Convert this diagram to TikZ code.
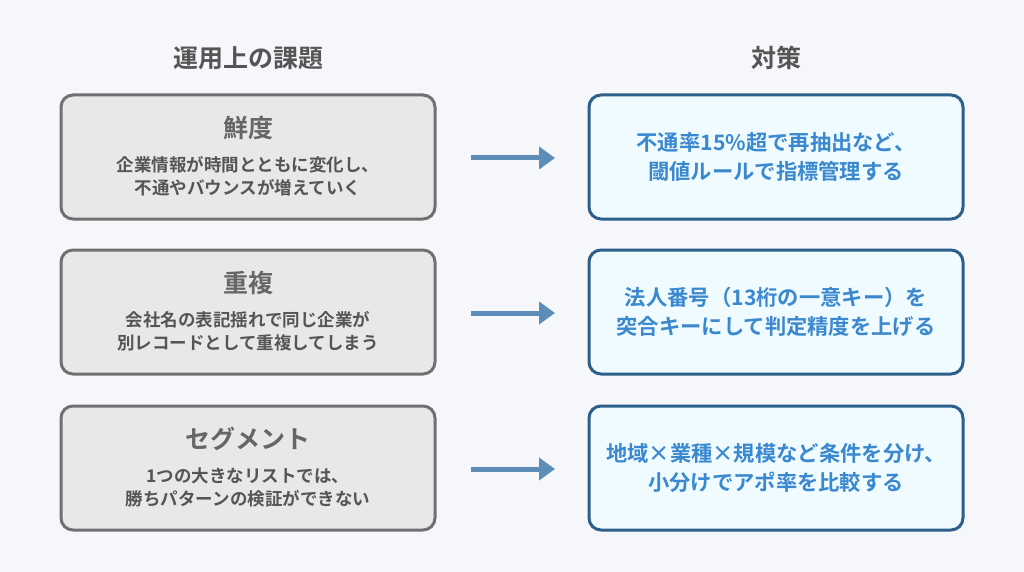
\documentclass[tikz,border=0pt]{standalone}
\usepackage{fontspec}
\setmainfont{Noto Sans CJK JP}[BoldFont={Noto Sans CJK JP Bold}]
\usetikzlibrary{arrows.meta}
\definecolor{bg}{HTML}{F5F7FA}
\definecolor{lfill}{HTML}{E8E8E8}
\definecolor{lborder}{HTML}{707070}
\definecolor{rfill}{HTML}{F0FBFF}
\definecolor{rborder}{HTML}{2C5F8A}
\definecolor{arr}{HTML}{5B8DB8}
\definecolor{rtext}{HTML}{3A88CF}
\definecolor{ttl}{HTML}{555555}
\definecolor{ltl}{HTML}{666666}
\begin{document}
\begin{tikzpicture}[x=1pt,y=-1pt,
 lbox/.style={draw=lborder,line width=3pt,fill=lfill,rounded corners=12pt,minimum width=374pt,minimum height=124pt,inner sep=0pt},
 rbox/.style={draw=rborder,line width=3pt,fill=rfill,rounded corners=12pt,minimum width=374pt,minimum height=124pt,inner sep=0pt,align=center,text=rtext,font=\bfseries\fontsize{21.3}{29}\selectfont},
 head/.style={text=ttl,font=\bfseries\fontsize{25}{28}\selectfont},
 ltitle/.style={text=ltl,font=\bfseries\fontsize{25}{28}\selectfont},
 ldesc/.style={text=ttl,align=center,font=\bfseries\fontsize{17.5}{23}\selectfont},
 conn/.style={draw=arr,line width=5pt,-{Stealth[length=16pt,width=22pt,inset=0pt]}}]
\fill[bg] (0,0) rectangle (1024,572);
\node[head] (h1) at (248,58) {運用上の課題};
\node[head] (h2) at (776,58) {対策};
\foreach \i/\y/\t/\d/\r in {
 1/157/鮮度/{企業情報が時間とともに変化し、\\不通やバウンスが増えていく}/{不通率15\%超で再抽出など、\\閾値ルールで指標管理する},
 2/312/重複/{会社名の表記揺れで同じ企業が\\別レコードとして重複してしまう}/{法人番号（13桁の一意キー）を\\突合キーにして判定精度を上げる},
 3/468/セグメント/{1つの大きなリストでは、\\勝ちパターンの検証ができない}/{地域×業種×規模など条件を分け、\\小分けでアポ率を比較する}}{
 \node[lbox] (l\i) at (248,\y) {};
 \node[ltitle] (t\i) at (248,\y-29) {\t};
 \node[ldesc] (d\i) at (248,\y+19) {\d};
 \node[rbox] (r\i) at (776,\y) {\r};
 \coordinate (a\i) at (471,\y+1);
 \coordinate (b\i) at (555,\y+1);
 \draw[conn] (a\i) -- (b\i);
}
\end{tikzpicture}
\end{document}
